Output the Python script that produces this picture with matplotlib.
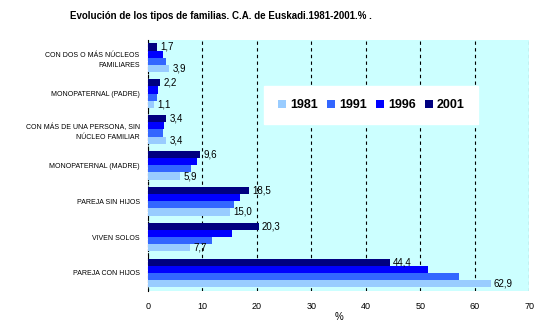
import numpy as np
import matplotlib
matplotlib.use('Agg')
import matplotlib.pyplot as plt

plt.rcParams['font.family'] = ['Liberation Sans', 'DejaVu Sans']

categories = ['CON DOS O MÁS NÚCLEOS\nFAMILIARES', 'MONOPATERNAL (PADRE)',
              'CON MÁS DE UNA PERSONA, SIN\nNÚCLEO FAMILIAR', 'MONOPATERNAL (MADRE)',
              'PAREJA SIN HIJOS', 'VIVEN SOLOS', 'PAREJA CON HIJOS']
years = ['1981', '1991', '1996', '2001']
v1981 = [3.9, 1.1, 3.4, 5.9, 15.0, 7.7, 62.9]
v1991 = [3.3, 1.6, 2.7, 7.9, 15.8, 11.7, 57.1]
v1996 = [2.7, 1.8, 2.9, 9.0, 16.9, 15.4, 51.4]
v2001 = [1.7, 2.2, 3.4, 9.6, 18.5, 20.3, 44.4]
colors = ['#99CCFF', '#3366FF', '#0000FF', '#000080']

fig = plt.figure(figsize=(5.4, 3.29), dpi=100)
ax = fig.add_axes([0.274, 0.116, 0.706, 0.763])
ax.set_facecolor('#CCFFFF')

y = np.arange(len(categories))
h = 0.2
series = [v1981, v1991, v1996, v2001]
# 2001 on top of each group, 1981 at bottom
offsets = [1.5 * h, 0.5 * h, -0.5 * h, -1.5 * h]
for vals, col, off, yr in zip(series, colors, offsets, years):
    ax.barh(y + off, vals, height=h, color=col, label=yr, zorder=3)

for i in range(len(categories)):
    ax.text(v2001[i] + 0.6, y[i] - 1.5 * h, f'{v2001[i]:.1f}'.replace('.', ','),
            va='center', ha='left', fontsize=7, zorder=4)
    ax.text(v1981[i] + 0.6, y[i] + 1.5 * h, f'{v1981[i]:.1f}'.replace('.', ','),
            va='center', ha='left', fontsize=7, zorder=4)

ax.set_xlim(0, 70)
ax.set_ylim(len(categories) - 0.5, -0.5)
ax.set_xticks(range(0, 71, 10))
ax.set_yticks(y)
ax.set_yticklabels(categories, fontsize=5, ha='right', linespacing=1.6)
ax.tick_params(axis='both', length=0)
ax.tick_params(axis='x', labelsize=6.5, pad=8)
ax.tick_params(axis='y', pad=6)
ax.grid(axis='x', color='black', linestyle=(0, (3, 3)), linewidth=0.8, zorder=1)
for s in ['top', 'right', 'bottom']:
    ax.spines[s].set_visible(False)
ax.spines['left'].set_linestyle((0, (2, 2)))
ax.spines['left'].set_linewidth(0.8)
ax.set_xlabel('%', fontsize=7, labelpad=1)

leg = ax.legend(ncol=4, loc='upper left', bbox_to_anchor=(0.289, 0.84),
                frameon=True, fancybox=False, edgecolor='white', facecolor='white',
                framealpha=1, prop={'weight': 'bold', 'size': 9},
                handlelength=0.7, handleheight=0.7, handletextpad=0.3,
                columnspacing=0.7, borderpad=1.05)
leg.set_zorder(5)

fig.text(0.41, 0.952, 'Evolución de los tipos de familias. C.A. de Euskadi.1981-2001.% .',
         ha='center', va='center', fontsize=7, weight='bold')

fig.savefig('out.png', dpi=100)
